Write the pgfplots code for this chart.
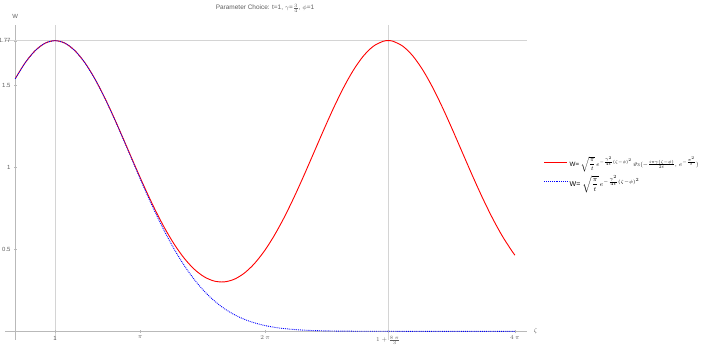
\documentclass[border=0pt]{standalone}
\usepackage{pgfplots}
\pgfplotsset{compat=1.18}
\usepackage{graphicx}
\usepackage{fontspec}
\setmainfont{Liberation Sans}
\definecolor{axgray}{RGB}{185,185,185}
\definecolor{gridgray}{RGB}{212,212,212}
\definecolor{txtgray}{RGB}{95,95,95}

\begin{document}
\begin{tikzpicture}
\path[use as bounding box] (-5bp,-9bp) rectangle (701bp,340bp);
\begin{axis}[
  scale only axis,
  width=522bp, height=315bp,
  xmin=-0.258, xmax=12.87,
  ymin=-0.053, ymax=1.868,
  axis lines=middle,
  axis line style={axgray, -},
  xtick={3.14159,6.28319,12.56637},
  xticklabels={$\pi$,$2\,\pi$,$4\,\pi$},
  extra x ticks={1,9.37758},
  extra x tick labels={1,$1+\frac{8\,\pi}{3}$},
  extra x tick style={grid=major},
  ytick={0.5,1,1.5},
  extra y ticks={1.7725},
  extra y tick labels={1.77},
  extra y tick style={grid=major},
  grid style={gridgray, line width=0.9bp},
  tick style={axgray},
  major tick length=2.5bp,
  ticklabel style={font=\fontsize{6}{7}\selectfont, text=txtgray},
  /pgf/number format/assume math mode=true,
  xlabel={$\zeta$}, ylabel={W},
  every axis x label/.style={at={(rel axis cs:1,0.0276)}, anchor=west, xshift=3bp,
    font=\fontsize{6.5}{7}\selectfont, text=txtgray},
  every axis y label/.style={at={(rel axis cs:0.01965,1)}, anchor=south, yshift=3bp,
    font=\fontsize{6}{7}\selectfont, text=txtgray},
  legend style={at={(1.026,0.533)}, anchor=west, draw=none, fill=none,
    font=\fontsize{7.5}{9}\selectfont, row sep=4bp},
  legend cell align=left,
]
% theta-function curve
\addplot[color=red, line width=0.9bp, smooth, no markers,
  legend image code/.code={\color{red}\draw[line width=0.9bp] (0bp,0bp) -- (23bp,0bp);}] coordinates {
(0,1.5408) (0.25,1.6382) (0.5,1.7115) (0.75,1.7571) (1,1.7726)
(1.25,1.7572) (1.5,1.7115) (1.75,1.6382) (2,1.5408) (2.25,1.4242)
(2.5,1.2940) (2.75,1.1559) (3,1.0157) (3.25,0.8788) (3.5,0.7498)
(3.75,0.6326) (4,0.5303) (4.25,0.4453) (4.5,0.3790) (4.75,0.3326)
(5,0.3066) (5.25,0.3013) (5.5,0.3167) (5.75,0.3528) (6,0.4090)
(6.25,0.4846) (6.5,0.5783) (6.75,0.6883) (7,0.8117) (7.25,0.9451)
(7.5,1.0843) (7.75,1.2241) (8,1.3591) (8.25,1.4833) (8.5,1.5912)
(8.75,1.6773) (9,1.7375) (9.25,1.7685) (9.37758,1.7726) (9.5,1.7688)
(9.75,1.7383) (10,1.6789) (10.25,1.5932) (10.5,1.4858) (10.75,1.3618)
(11,1.2270) (11.25,1.0872) (11.5,0.9479) (11.75,0.8144) (12,0.6907)
(12.25,0.5805) (12.5,0.4864) (12.56637,0.4644)
};
\addlegendentry{\resizebox{129bp}{!}{W= $\sqrt{\displaystyle\frac{\pi}{t}}\,e^{-\frac{\gamma^2}{4t}(\zeta-\phi)^2}\,\vartheta_3(-\frac{i\pi\gamma(\zeta-\phi)}{2t},\,e^{-\frac{\pi^2}{t}})$}}
% gaussian
\addplot[color=blue, line width=0.9bp, densely dotted, smooth, no markers,
  legend image code/.code={\color{blue}\draw[line width=0.9bp, densely dotted] (0bp,0bp) -- (23bp,0bp);}] coordinates {
(0,1.53994) (0.25,1.63765) (0.5,1.71123) (0.75,1.75695) (1,1.77245)
(1.25,1.75695) (1.5,1.71123) (1.75,1.63765) (2,1.53994) (2.25,1.42282)
(2.5,1.29170) (2.75,1.15223) (3,1.00991) (3.25,0.86974) (3.5,0.73599)
(3.75,0.61194) (4,0.49994) (4.25,0.40132) (4.5,0.31654) (4.75,0.24532)
(5,0.18681) (5.25,0.13978) (5.5,0.10277) (5.75,0.07424) (6,0.05269)
(6.25,0.03675) (6.5,0.02518) (6.75,0.01696) (7,0.01122) (7.25,0.00729)
(7.5,0.00466) (7.75,0.00292) (8,0.00180) (8.25,0.00109) (8.5,0.00065)
(8.75,0.00038) (9,0.00022) (9.5,0.00007) (10,0.00002) (11,0) (12,0)
(12.56637,0)
};
\addlegendentry{\resizebox{70bp}{!}{W= $\sqrt{\displaystyle\frac{\pi}{t}}\,e^{-\frac{\gamma^2}{4t}(\zeta-\phi)^2}$}}
\end{axis}
\node[font=\fontsize{6.5}{7}\selectfont, text=txtgray, anchor=base] at (260bp,330bp)
  {Parameter Choice: t=1, $\gamma$=$\frac{3}{4}$, $\phi$=1};
\end{tikzpicture}
\end{document}
